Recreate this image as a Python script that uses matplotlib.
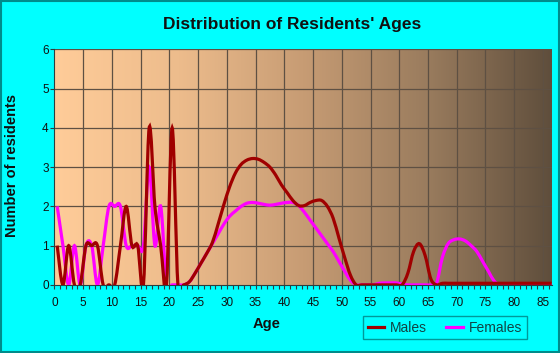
import numpy as np
import matplotlib
matplotlib.use('Agg')
from matplotlib import pyplot as plt
from matplotlib.path import Path
from matplotlib.patches import PathPatch, Rectangle
from matplotlib.colors import LinearSegmentedColormap
from matplotlib.lines import Line2D

plt.rcParams['font.family'] = ['Liberation Sans', 'DejaVu Sans']

# age bins (centre of each one-year bin)
ages = np.arange(0, 87) + 0.5

males = [1, 0, 1, 0, 0, 1, 1, 1, 0, 0, 0, 1, 2, 1, 1, 0, 4, 2, 1, 0, 4, 0,
         0, 0.08, 0.3, 0.55, 0.8, 1.08, 1.55, 2.05, 2.5, 2.85, 3.07, 3.18, 3.22, 3.2,
         3.12, 3.0, 2.8, 2.55, 2.35, 2.15, 2.02, 2.02, 2.1, 2.15, 2.15, 2.0, 1.7, 1.2,
         0.7, 0.25, 0, 0, 0, 0, 0, 0, 0, 0, 0, 0.3, 0.85, 1.05, 0.75, 0.15, 0,
         0.04, 0.04, 0.04, 0.04, 0.04, 0.04, 0.04, 0.04, 0.04, 0.04, 0.04, 0.04, 0.04,
         0.04, 0.04, 0.04, 0.04, 0.04, 0.04, 0.04]

females = [2, 1, 0, 1, 0, 1, 1, 0, 1, 2, 2, 2, 1, 1, 1, 1, 3, 1, 2, 0, 0, 0,
           0, 0.08, 0.3, 0.55, 0.8, 1.05, 1.3, 1.55, 1.75, 1.88, 2.0, 2.08, 2.1, 2.08,
           2.05, 2.03, 2.05, 2.08, 2.1, 2.1, 2.02, 1.85, 1.65, 1.45, 1.25, 1.05, 0.85, 0.6,
           0.35, 0.12, 0, 0, 0, 0, 0.04, 0.05, 0.05, 0.05, 0.02, 0, 0, 0, 0, 0, 0.05,
           0.7, 1.05, 1.15, 1.17, 1.12, 1.0, 0.85, 0.6, 0.35, 0.1, 0, 0, 0,
           0, 0, 0, 0, 0, 0, 0]

y_ticks = [0, 1, 2, 3, 4, 5, 6]
x_ticks = list(range(0, 90, 5))

male_color = '#A00000'
female_color = '#FF00FF'
bg_color = '#00FFFF'


def smooth_path(x, y):
    # Catmull-Rom curve through the points, as cubic bezier segments
    pts = np.column_stack([x, y])
    verts = [pts[0]]
    codes = [Path.MOVETO]
    n = len(pts)
    for i in range(n - 1):
        p0 = pts[max(i - 1, 0)]
        p1 = pts[i]
        p2 = pts[i + 1]
        p3 = pts[min(i + 2, n - 1)]
        c1 = p1 + (p2 - p0) / 6
        c2 = p2 - (p3 - p1) / 6
        verts += [c1, c2, p2]
        codes += [Path.CURVE4] * 3
    return Path(verts, codes)


fig = plt.figure(figsize=(5.6, 3.53), dpi=100, facecolor=bg_color)
ax = fig.add_axes([0.097, 0.193, 0.889, 0.667])

xmax = 86.6
ax.set_xlim(0, xmax)
ax.set_ylim(0, 6)

# gradient background
cmap = LinearSegmentedColormap.from_list('bg', ['#FFCC99', '#EDBC8C', '#C79C74', '#9A7C5E', '#5F4E3C'])
grad = np.linspace(0, 1, 256).reshape(1, -1)
ax.imshow(grad, extent=[0, xmax, 0, 6], aspect='auto', cmap=cmap, zorder=0)

for v in x_ticks[1:]:
    ax.axvline(v, color='#5E5043', linewidth=0.9, zorder=1)
for v in y_ticks[1:]:
    ax.axhline(v, color='#5E5043', linewidth=0.9, zorder=1)

ax.add_patch(PathPatch(smooth_path(ages, females), facecolor='none', edgecolor=female_color,
                       linewidth=2.3, zorder=3, clip_on=True))
ax.add_patch(PathPatch(smooth_path(ages, males), facecolor='none', edgecolor=male_color,
                       linewidth=2.3, zorder=4, clip_on=True))

ax.set_xticks(x_ticks)
ax.set_xticks(range(0, 87), minor=True)
ax.set_yticks(y_ticks)
ax.tick_params(axis='x', which='both', direction='out', length=3, width=0.8, color='#2A4040',
               labelsize=8.5, pad=6, labelcolor='#111111')
ax.tick_params(axis='y', direction='out', length=3, width=0.8, color='#2A4040',
               labelsize=8.5, pad=1, labelcolor='#111111')
for s in ['top', 'right']:
    ax.spines[s].set_visible(False)
for s in ['left', 'bottom']:
    ax.spines[s].set_color('#2A4040')
    ax.spines[s].set_linewidth(0.8)

fig.text(0.522, 0.932, "Distribution of Residents' Ages", ha='center', va='center',
         fontsize=12.5, fontweight='bold', color='#111111')
fig.text(0.021, 0.53, 'Number of residents', ha='center', va='center', rotation=90,
         fontsize=10.5, fontweight='bold', color='#111111')
fig.text(0.476, 0.082, 'Age', ha='center', va='center',
         fontsize=10.5, fontweight='bold', color='#111111')

handles = [Line2D([0], [0], color=male_color, linewidth=2.3, label='Males'),
           Line2D([0], [0], color=female_color, linewidth=2.3, label='Females')]
leg = fig.legend(handles=handles, loc='center', bbox_to_anchor=(0.794, 0.072), ncol=2,
                 fontsize=10, frameon=True, fancybox=False, handlelength=1.2,
                 handletextpad=0.4, columnspacing=1.4, borderpad=0.35)
leg.get_frame().set_edgecolor('#008080')
leg.get_frame().set_facecolor('none')
leg.get_frame().set_linewidth(1.0)
for t in leg.get_texts():
    t.set_color('#114444')

fig.add_artist(Rectangle((0.001, 0.002), 0.997, 0.995, transform=fig.transFigure,
                         fill=False, edgecolor='#008B8B', linewidth=1.5))

fig.savefig('out.png', dpi=100, facecolor=bg_color)
